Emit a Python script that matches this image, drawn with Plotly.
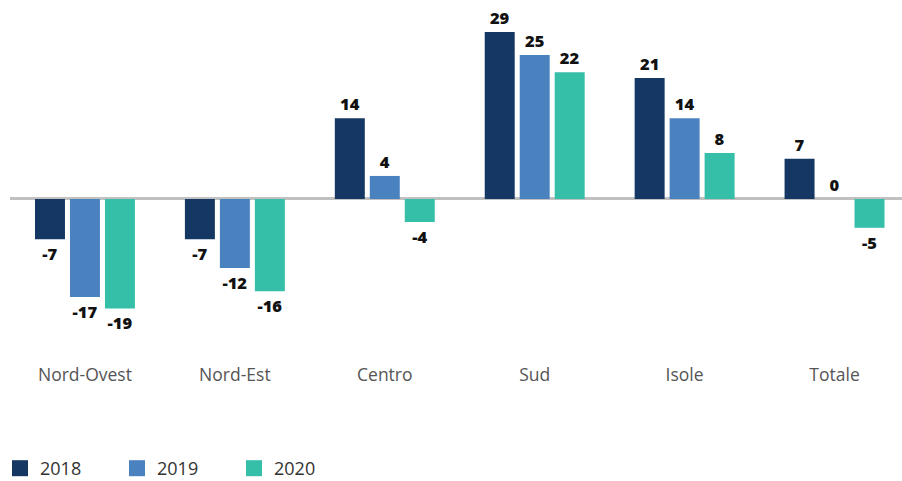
import plotly.graph_objects as go

categories = ["Nord-Ovest", "Nord-Est", "Centro", "Sud", "Isole", "Totale"]
values_2018 = [-7, -7, 14, 29, 21, 7]
values_2019 = [-17, -12, 4, 25, 14, 0]
values_2020 = [-19, -16, -4, 22, 8, -5]

series = [
    ("2018", values_2018, "#143863"),
    ("2019", values_2019, "#4a82c0"),
    ("2020", values_2020, "#36bfa8"),
]

fig = go.Figure()
for name, vals, color in series:
    fig.add_trace(go.Bar(
        x=categories,
        y=vals,
        name=name,
        showlegend=False,
        marker=dict(color=color, line=dict(width=0)),
        text=[str(v) for v in vals],
        textposition="outside",
        textfont=dict(family="Open Sans", size=16.5, color="#111111", weight=800),
        cliponaxis=False,
    ))

# Legend entries with larger square swatches
for name, vals, color in series:
    fig.add_trace(go.Scatter(
        x=[None],
        y=[None],
        mode="markers",
        name=name,
        marker=dict(symbol="square", size=16, color=color, line=dict(width=0)),
        showlegend=True,
    ))

fig.update_layout(
    width=902,
    height=481,
    margin=dict(l=10, r=0, t=15, b=121),
    plot_bgcolor="white",
    paper_bgcolor="white",
    barmode="group",
    bargap=0.3,
    bargroupgap=0.143,
    font=dict(family="Open Sans", color="#555555"),
    showlegend=True,
    legend=dict(
        orientation="h",
        x=-0.019,
        xref="paper",
        xanchor="left",
        y=0.026,
        yref="container",
        yanchor="middle",
        font=dict(size=18, color="#333333"),
        entrywidth=72,
        entrywidthmode="pixels",
        itemsizing="trace",
    ),
    xaxis=dict(
        range=[-0.5, 5.45],
        showgrid=False,
        showline=False,
        ticks="",
        ticklabelstandoff=2,
        tickfont=dict(size=17.5, color="#555555"),
    ),
    yaxis=dict(
        range=[-27.95, 31.94],
        showgrid=False,
        showticklabels=False,
        zeroline=True,
        zerolinecolor="#c0c0c0",
        zerolinewidth=3,
    ),
)

fig.write_html("out.html")
